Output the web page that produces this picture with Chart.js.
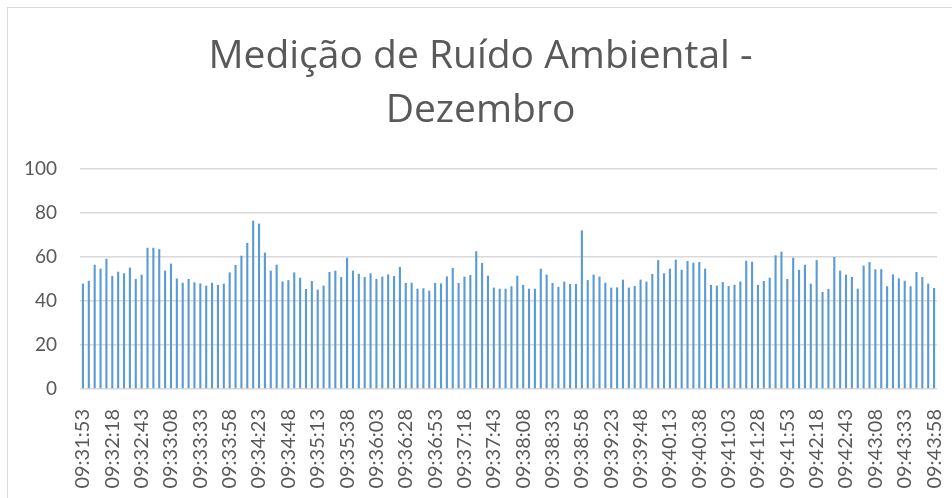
<!DOCTYPE html>
<html>
<head>
<meta charset="utf-8">
<script src="https://cdn.jsdelivr.net/npm/chart.js@4"></script>
<style>
  html, body { margin: 0; padding: 0; background: #fff; }
  #wrap { position: relative; width: 952px; height: 498px; overflow: hidden; }
  #frame { position: absolute; left: 7px; top: 7px; width: 960px; height: 500px; border: 1px solid #d9d9d9; }
  #myChart { position: absolute; left: 0; top: 0; }
</style>
</head>
<body>
<div id="wrap">
  <div id="frame"></div>
  <canvas id="myChart" width="952" height="498"></canvas>
</div>
<script>
const chartTitle = ['Medição de Ruído Ambiental -', 'Dezembro'];

// first reading and sampling interval (seconds)
const startTime = '09:31:53';
const stepSeconds = 5;

// noise level readings, dB
const noiseLevels = [
    47.9, 49.2, 56.5, 54.7, 59.2, 51.4, 53.3, 52.6, 55.2, 50.0,
    52.0, 64.2, 64.2, 63.6, 53.8, 57.0, 50.2, 48.3, 50.0, 48.5,
    48.0, 47.0, 48.3, 47.3, 47.9, 53.0, 56.4, 60.6, 66.4, 76.5,
    75.2, 62.0, 53.8, 56.5, 48.9, 49.5, 53.0, 50.6, 45.5, 49.1,
    45.2, 47.0, 53.2, 53.8, 50.9, 59.7, 53.8, 52.4, 50.9, 52.6,
    50.0, 51.1, 52.1, 51.4, 55.5, 48.2, 48.3, 45.6, 45.8, 44.7,
    48.2, 48.0, 51.2, 55.0, 48.2, 51.1, 51.8, 62.6, 57.3, 51.5,
    46.1, 45.6, 45.6, 46.7, 51.5, 47.3, 45.6, 45.6, 54.7, 52.0,
    48.2, 46.4, 48.8, 47.7, 47.7, 72.1, 49.5, 52.0, 51.1, 48.3,
    46.1, 46.2, 49.7, 46.1, 46.8, 49.7, 48.8, 52.3, 58.6, 52.6,
    54.7, 58.8, 54.2, 58.2, 57.4, 57.7, 54.7, 47.3, 47.0, 48.6,
    46.8, 47.4, 48.9, 58.3, 57.9, 47.3, 49.1, 50.6, 60.8, 62.4,
    50.0, 59.7, 54.2, 56.5, 47.9, 58.6, 44.1, 45.5, 60.0, 53.8,
    52.0, 50.9, 45.6, 56.1, 57.7, 54.4, 54.5, 46.7, 52.1, 50.3,
    49.2, 46.7, 53.2, 50.9, 47.9, 45.9
];

const yTicks = [0, 20, 40, 60, 80, 100];
const labelEvery = 5;

function pad(n) {
    return String(n).padStart(2, '0');
}

function buildTimes(start, step, count) {
    const [h, m, s] = start.split(':').map(Number);
    let t = h * 3600 + m * 60 + s;
    const out = [];
    for (let i = 0; i < count; i++) {
        out.push(pad(Math.floor(t / 3600)) + ':' + pad(Math.floor(t / 60) % 60) + ':' + pad(t % 60));
        t += step;
    }
    return out;
}

const times = buildTimes(startTime, stepSeconds, noiseLevels.length);

const textColor = '#595959';
const gridColor = '#d9d9d9';
const fontFamily = "Lato, 'Open Sans', sans-serif";

const ctx = document.getElementById('myChart');

new Chart(ctx, {
    type: 'bar',
    data: {
        labels: times,
        datasets: [{
            data: noiseLevels,
            backgroundColor: '#5b9bd5',
            borderWidth: 0,
            barPercentage: 0.36,
            categoryPercentage: 1
        }]
    },
    options: {
        responsive: false,
        animation: false,
        layout: {
            padding: { left: 24, right: 15, top: 0, bottom: 0 }
        },
        plugins: {
            legend: { display: false },
            tooltip: { enabled: false },
            title: {
                display: true,
                text: chartTitle,
                color: textColor,
                font: { family: "'Open Sans', Lato, sans-serif", size: 39, weight: 'normal', lineHeight: 1.385 },
                padding: { top: 30, bottom: 31 }
            }
        },
        scales: {
            x: {
                grid: { display: false },
                border: { display: false },
                ticks: {
                    autoSkip: false,
                    minRotation: 90,
                    maxRotation: 90,
                    padding: 12,
                    color: textColor,
                    font: { family: fontFamily, size: 20 },
                    callback: function (value, index) {
                        return index % labelEvery === 0 ? times[index] : '';
                    }
                },
                afterFit: function (scale) {
                    // keep the rotated end labels from narrowing the plot
                    scale.paddingLeft = 0;
                    scale.paddingRight = 0;
                    scale.height = 109;
                }
            },
            y: {
                min: 0,
                max: 100,
                afterBuildTicks: function (scale) {
                    scale.ticks = yTicks.map(v => ({ value: v }));
                },
                grid: { color: gridColor, lineWidth: 1.5, drawTicks: false },
                border: { display: false },
                ticks: {
                    padding: 23,
                    color: textColor,
                    font: { family: fontFamily, size: 19 }
                },
                afterFit: function (scale) {
                    scale.width = 56;
                }
            }
        }
    }
});
</script>
</body>
</html>
